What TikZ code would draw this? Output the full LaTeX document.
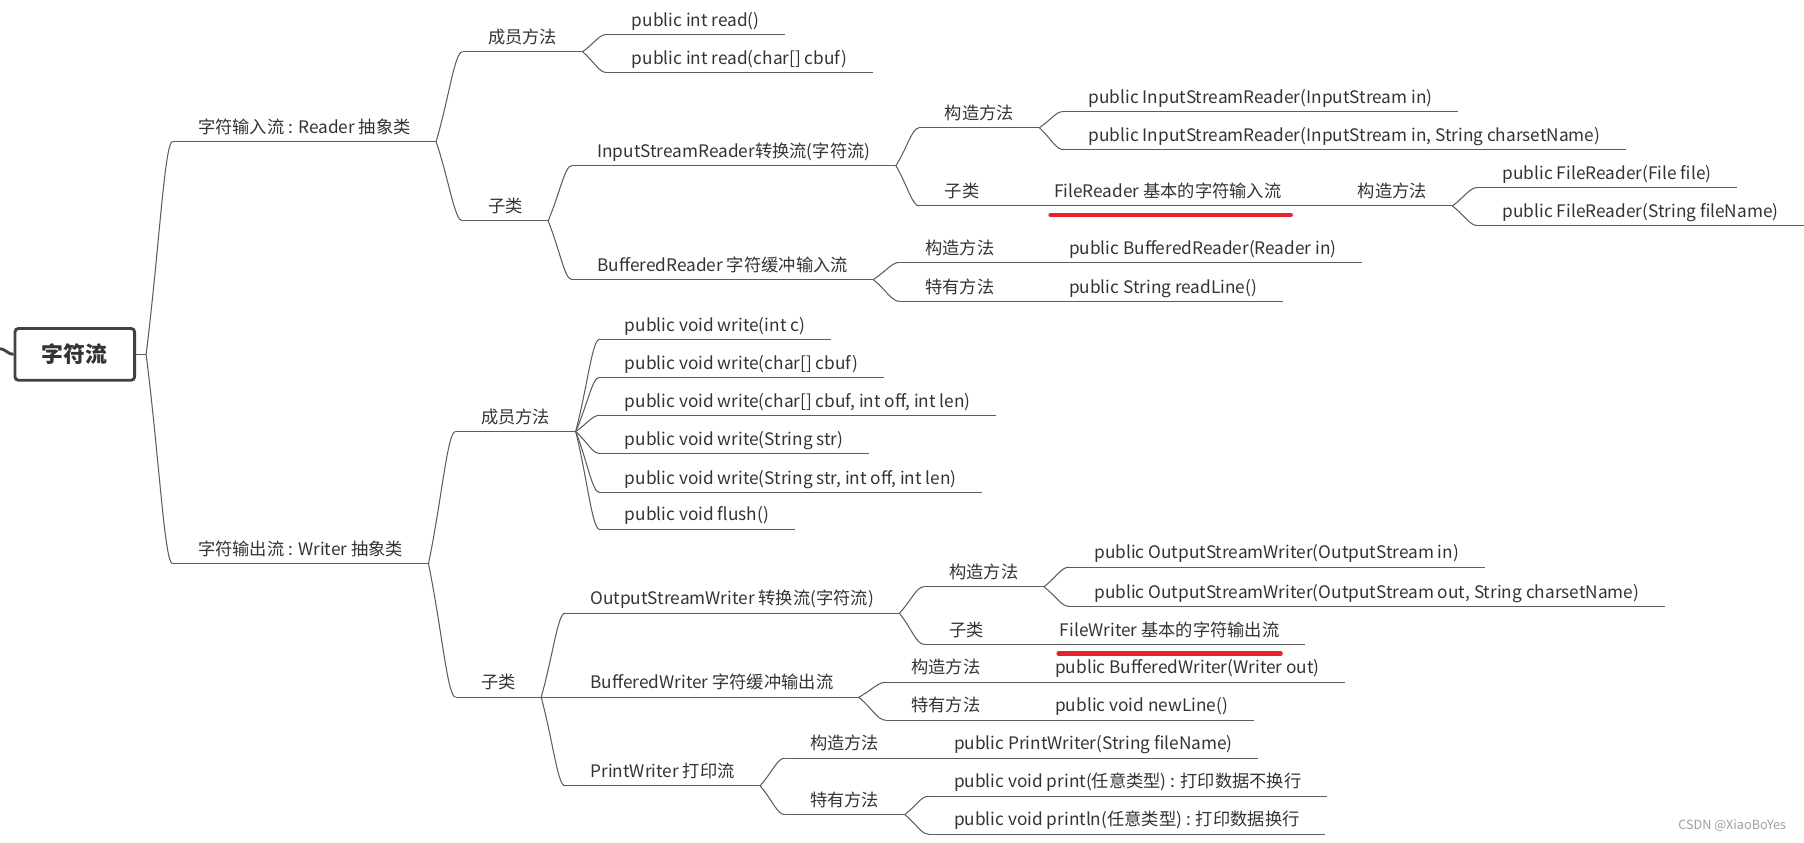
\documentclass[tikz,border=0pt]{standalone}
\usepackage{fontspec}
\setmainfont{Noto Sans CJK SC}
\usepackage{tikz}
\usetikzlibrary{calc}

\definecolor{ink}{HTML}{333333}
\definecolor{linegray}{HTML}{5C5C5C}
\definecolor{rootgray}{HTML}{424242}
\definecolor{markred}{HTML}{E8222C}
\definecolor{signgray}{HTML}{A0A0A0}

\tikzset{
  conn/.style={draw=linegray, line width=0.9pt},
  branch/.style={to path={.. controls ($(\tikztostart)!0.5!(\tikztotarget)$)
      and ($(\tikztotarget -| \tikztostart)!0.7!(\tikztotarget)$) .. (\tikztotarget)}},
  topic/.style={anchor=south west, inner xsep=22pt, inner ysep=3pt,
    text height=11pt, text depth=4pt, text=ink,
    font=\fontsize{15}{18}\selectfont,
    append after command={(\tikzlastnode.south west) edge[conn] (\tikzlastnode.south east)}},
  rootbox/.style={draw=rootgray, line width=2.5pt, rounded corners=3pt,
    minimum width=104pt, minimum height=45pt, text=ink,
    font=\fontsize{19}{22}\selectfont\bfseries},
  redline/.style={draw=markred, line width=3.5pt, line cap=round},
}

\begin{document}
\begin{tikzpicture}[x=1pt, y=-1pt]

  \useasboundingbox (0,0) rectangle (1568,732);

  % --- Radice ---
  \node[rootbox] (root) at (65,308) {字符流};
  \coordinate (src) at (0,303);
  \coordinate (hub) at (127,308);
  \draw[draw=rootgray, line width=2.5pt] (src) to[out=-5, in=180] (root.west);
  \draw[conn] (root.east) -- (hub);

  % --- Primo livello ---
  \node[topic] (rd) at (150,123) {字符输入流 : Reader 抽象类};
  \node[topic] (wr) at (150,490) {字符输出流 : Writer 抽象类};

  % --- Reader ---
  \node[topic] (rdm) at (402,45) {成员方法};
  \node[topic] (rds) at (402,192) {子类};

  \node[topic] (rdm1) at (527,30) {public int read()};
  \node[topic] (rdm2) at (527,63) {public int read(char[] cbuf)};

  \node[topic] (isr) at (497,144) {InputStreamReader转换流(字符流)};
  \node[topic] (br) at (497,243) {BufferedReader 字符缓冲输入流};

  \node[topic] (isrc) at (799,111) {构造方法};
  \node[topic] (isrs) at (799,179) {子类};
  \node[topic] (isrc1) at (924,97) {public InputStreamReader(InputStream in)};
  \node[topic] (isrc2) at (924,130) {public InputStreamReader(InputStream in, String charsetName)};

  \node[topic] (fr) at (894,179) {FileReader 基本的字符输入流};
  \node[topic] (frc) at (1158,179) {构造方法};
  \node[topic] (frc1) at (1284,163) {public FileReader(File file)};
  \node[topic] (frc2) at (1284,196) {public FileReader(String fileName)};

  \node[topic] (brc) at (782,228) {构造方法};
  \node[topic] (brt) at (782,262) {特有方法};
  \node[topic] (brc1) at (907,228) {public BufferedReader(Reader in)};
  \node[topic] (brt1) at (907,262) {public String readLine()};

  % --- Writer ---
  \node[topic] (wrm) at (396,375) {成员方法};
  \node[topic] (wrs) at (396,606) {子类};

  \node[topic] (wm1) at (521,295) {public void write(int c)};
  \node[topic] (wm2) at (521,328) {public void write(char[] cbuf)};
  \node[topic] (wm3) at (521,361) {public void write(char[] cbuf, int off, int len)};
  \node[topic] (wm4) at (521,394) {public void write(String str)};
  \node[topic] (wm5) at (521,428) {public void write(String str, int off, int len)};
  \node[topic] (wm6) at (521,460) {public void flush()};

  \node[topic] (osw) at (491,533) {OutputStreamWriter 转换流(字符流)};
  \node[topic] (bw) at (491,606) {BufferedWriter 字符缓冲输出流};
  \node[topic] (pw) at (491,683) {PrintWriter 打印流};

  \node[topic] (oswc) at (803,510) {构造方法};
  \node[topic] (osws) at (803,560) {子类};
  \node[topic] (oswc1) at (929,493) {public OutputStreamWriter(OutputStream in)};
  \node[topic] (oswc2) at (929,527) {public OutputStreamWriter(OutputStream out, String charsetName)};
  \node[topic] (fw) at (899,560) {FileWriter 基本的字符输出流};

  \node[topic] (bwc) at (770,593) {构造方法};
  \node[topic] (bwt) at (770,626) {特有方法};
  \node[topic] (bwc1) at (895,593) {public BufferedWriter(Writer out)};
  \node[topic] (bwt1) at (895,626) {public void newLine()};

  \node[topic] (pwc) at (682,659) {构造方法};
  \node[topic] (pwt) at (682,708) {特有方法};
  \node[topic] (pwc1) at (807,659) {public PrintWriter(String fileName)};
  \node[topic] (pwt1) at (807,692) {public void print(任意类型) : 打印数据不换行};
  \node[topic] (pwt2) at (807,725) {public void println(任意类型) : 打印数据换行};

  % --- Collegamenti ---
  \draw[conn] (hub) to[branch] (rd.south west);
  \draw[conn] (hub) to[branch] (wr.south west);
  \foreach \a/\b in {rd/rdm, rd/rds, rdm/rdm1, rdm/rdm2, rds/isr, rds/br,
      isr/isrc, isr/isrs, isrc/isrc1, isrc/isrc2, isrs/fr, fr/frc,
      frc/frc1, frc/frc2, br/brc, br/brt, brc/brc1, brt/brt1,
      wr/wrm, wr/wrs, wrm/wm1, wrm/wm2, wrm/wm3, wrm/wm4, wrm/wm5, wrm/wm6,
      wrs/osw, wrs/bw, wrs/pw, osw/oswc, osw/osws, oswc/oswc1, oswc/oswc2,
      osws/fw, bw/bwc, bw/bwt, bwc/bwc1, bwt/bwt1,
      pw/pwc, pw/pwt, pwc/pwc1, pwt/pwt1, pwt/pwt2}{
    \draw[conn] (\a.south east) to[branch] (\b.south west);
  }

  % --- Sottolineature rosse ---
  \draw[redline] ([shift={(19,8)}]fr.south west) -- ([shift={(-14,8)}]fr.south east);
  \draw[redline] ([shift={(21,8)}]fw.south west) -- ([shift={(-21,8)}]fw.south east);

  % --- Firma ---
  \node[text=signgray, font=\fontsize{11}{13}\selectfont, anchor=east] (sign) at (1556,718) {CSDN @XiaoBoYes};

\end{tikzpicture}
\end{document}
